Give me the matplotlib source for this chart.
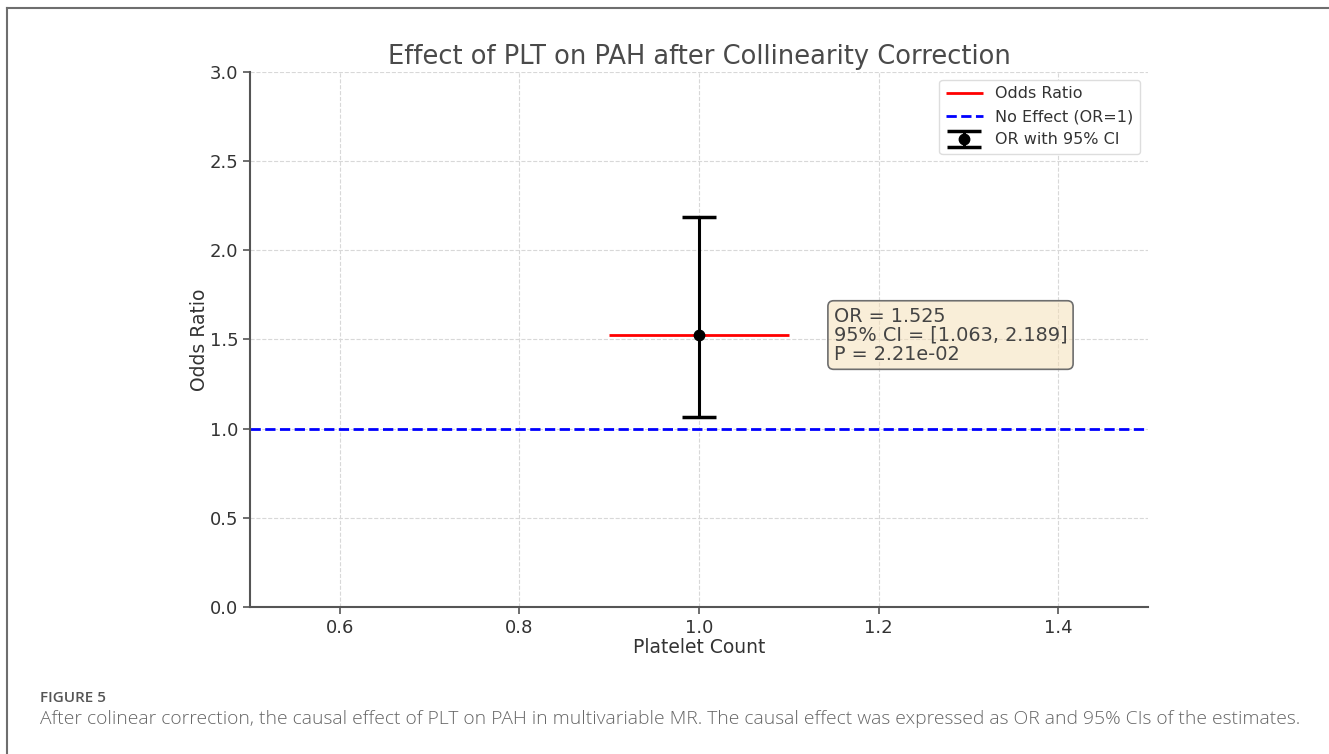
import matplotlib
matplotlib.use("Agg")
import matplotlib.pyplot as plt
import matplotlib.colors as mcolors
from matplotlib.lines import Line2D

plt.rcParams["font.family"] = ["DejaVu Sans"]

# values
OR_VAL = 1.525
CI_LOW, CI_HIGH = 1.063, 2.189
P_VAL = 2.21e-02
X_POS = 1.0
OR_SPAN = [0.9, 1.1]
NULL_OR = 1.0
XLIM = [0.5, 1.5]
YLIM = [0.0, 3.0]
XTICKS = [0.6, 0.8, 1.0, 1.2, 1.4]
YTICKS = [0.0, 0.5, 1.0, 1.5, 2.0, 2.5, 3.0]

TITLE = "Effect of PLT on PAH after Collinearity Correction"
CAP_HEAD = "FIGURE 5"
CAP_TEXT = ("After colinear correction, the causal effect of PLT on PAH in multivariable MR. "
            "The causal effect was expressed as OR and 95% CIs of the estimates.")

fig = plt.figure(figsize=(13.29, 7.54), dpi=100)
ax = fig.add_axes([0.1881, 0.1950, 0.6757, 0.7095])

ax.hlines(OR_VAL, OR_SPAN[0], OR_SPAN[1], color="red", lw=2, label="Odds Ratio")
ax.axhline(NULL_OR, color="blue", ls="--", lw=2, label="No Effect (OR=1)")
ax.errorbar(X_POS, OR_VAL, yerr=[[OR_VAL - CI_LOW], [CI_HIGH - OR_VAL]], fmt="o",
            color="black", ms=7.5, elinewidth=2.2, capsize=12, capthick=2.5,
            label="OR with 95% CI")

ax.set_xlim(XLIM)
ax.set_ylim(YLIM)
ax.set_xticks(XTICKS)
ax.set_yticks(YTICKS)
ax.grid(True, ls="--", color="#d8d8d8", lw=0.8)
ax.set_axisbelow(True)
for s in ["top", "right"]:
    ax.spines[s].set_visible(False)
for s in ["left", "bottom"]:
    ax.spines[s].set_color("#555555")
    ax.spines[s].set_linewidth(1.5)
ax.tick_params(labelsize=13, colors="#555555", labelcolor="#333333", length=5, width=1.2)

ax.set_title(TITLE, fontsize=18.5, color="#4a4a4a", pad=6)
ax.set_xlabel("Platelet Count", fontsize=13.5, color="#333333", labelpad=1)
ax.set_ylabel("Odds Ratio", fontsize=13.5, color="#333333", labelpad=0)

info = f"OR = {OR_VAL:.3f}\n95% CI = [{CI_LOW:.3f}, {CI_HIGH:.3f}]\nP = {P_VAL:.2e}"
ax.text(1.15, OR_VAL, info, fontsize=13.9, color="#444444", va="center", ha="left",
        linespacing=1.0,
        bbox=dict(boxstyle="round,pad=0.3", facecolor=mcolors.to_rgba("wheat", 0.5),
                  edgecolor="#6e6e6e", lw=1.2))

leg = ax.legend(loc="upper right", fontsize=11.5, framealpha=1, edgecolor="#dddddd",
                labelcolor="#333333", handlelength=2.3)

# figure frame and caption
fig.add_artist(Line2D([7 / 1329, 7 / 1329], [0, 1 - 8 / 754], color="#6e6e6e", lw=1.5,
                      transform=fig.transFigure))
fig.add_artist(Line2D([7 / 1329, 1], [1 - 8 / 754, 1 - 8 / 754], color="#6e6e6e", lw=1.5,
                      transform=fig.transFigure))
fig.text(40 / 1329, 1 - 698 / 754, CAP_HEAD, fontsize=11, color="#555555",
         family="Open Sans", weight="semibold", va="center")
fig.text(40 / 1329, 1 - 719 / 754, CAP_TEXT, fontsize=13.9, color="#666666",
         family="Open Sans", weight="light", va="center")

fig.savefig("out.png", dpi=100)
